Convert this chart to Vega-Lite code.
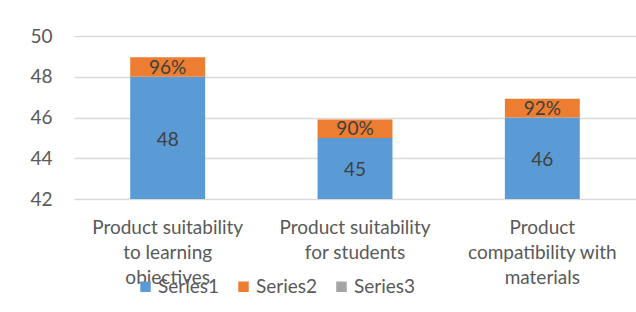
{
  "$schema": "https://vega.github.io/schema/vega-lite/v6.json",
  "width": 562,
  "height": 163,
  "autosize": {"type": "none"},
  "padding": {"left": 74, "top": 36, "right": 0, "bottom": 113},
  "background": "white",
  "config": {
    "font": "Lato",
    "view": {"stroke": null},
    "axis": {"labelColor": "#595959", "labelFont": "Lato", "labelFontSize": 19, "domain": false, "ticks": false, "title": null},
    "legend": {"labelColor": "#595959", "labelFont": "Lato", "labelFontSize": 19}
  },
  "data": {
    "values": [
      {"category": "Product suitability|to learning|objectives", "Series1": 48, "Series2": 0.96, "Series3": 0},
      {"category": "Product suitability|for students", "Series1": 45, "Series2": 0.90, "Series3": 0},
      {"category": "Product|compatibility with|materials", "Series1": 46, "Series2": 0.92, "Series3": 0}
    ]
  },
  "encoding": {
    "x": {
      "field": "category", "type": "nominal", "sort": null,
      "scale": {"paddingInner": 0.6, "paddingOuter": 0.3},
      "axis": {"labelAngle": 0, "labelExpr": "split(datum.label, '|')", "labelLineHeight": 25, "labelPadding": 19, "labelBaseline": "top", "grid": false}
    }
  },
  "layer": [
    {
      "transform": [{"fold": ["Series1", "Series2", "Series3"], "as": ["series", "value"]}],
      "mark": {"type": "bar", "clip": true},
      "encoding": {
        "y": {"field": "value", "type": "quantitative", "stack": "zero",
              "scale": {"domain": [42, 50], "nice": false, "zero": false},
              "axis": {"values": [42, 44, 46, 48, 50], "grid": true, "gridColor": "#d9d9d9", "gridWidth": 1.5, "labelPadding": 22}},
        "color": {"field": "series", "type": "nominal",
                  "scale": {"domain": ["Series1", "Series2", "Series3"], "range": ["#5B9BD5", "#ED7D31", "#A5A5A5"]},
                  "legend": {"title": null, "orient": "none", "direction": "horizontal", "legendX": 62, "legendY": 241, "symbolType": "square", "symbolSize": 110, "symbolStrokeWidth": 0, "columnPadding": 14, "labelOffset": 3, "padding": 0}},
        "order": {"field": "series", "sort": "ascending"}
      }
    },
    {
      "mark": {"type": "text", "fontSize": 19, "color": "#404040", "baseline": "middle", "dy": 2},
      "encoding": {
        "y": {"field": "Series1", "type": "quantitative", "scale": {"domain": [42, 58], "nice": false, "zero": false}, "axis": null},
        "text": {"field": "Series1", "type": "quantitative"}
      }
    },
    {
      "mark": {"type": "text", "fontSize": 19, "color": "#404040", "baseline": "middle", "dy": -9},
      "encoding": {
        "y": {"field": "Series1", "type": "quantitative", "scale": {"domain": [42, 50], "nice": false, "zero": false}, "axis": null},
        "text": {"field": "Series2", "type": "quantitative", "format": ".0%"}
      }
    }
  ],
  "resolve": {"scale": {"y": "independent"}}
}
